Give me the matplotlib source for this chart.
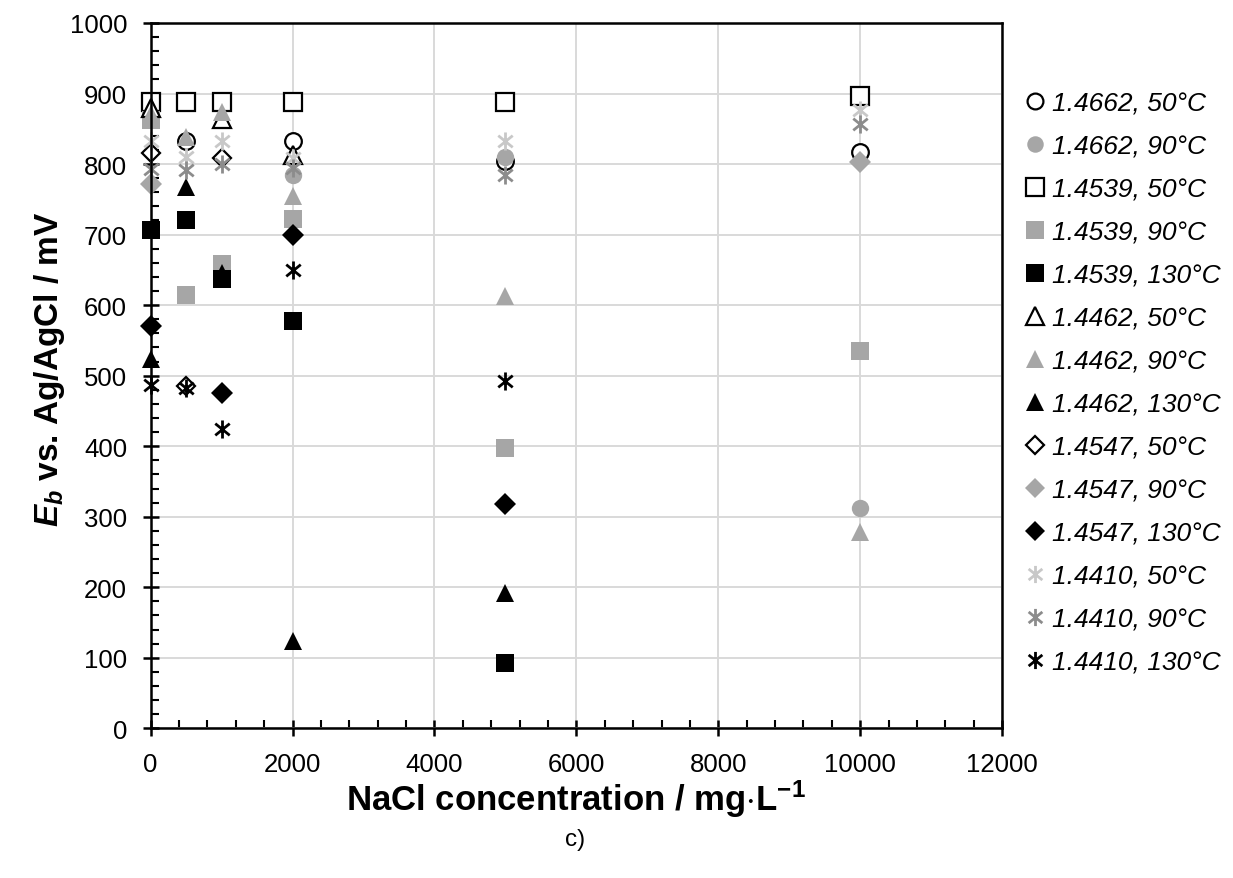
import numpy as np
import matplotlib
matplotlib.use("Agg")
import matplotlib.pyplot as plt
from matplotlib.path import Path
from matplotlib.ticker import MultipleLocator

plt.rcParams["font.family"] = ["Liberation Sans", "DejaVu Sans"]
plt.rcParams["mathtext.fontset"] = "custom"
plt.rcParams["mathtext.bf"] = "Liberation Sans:bold"
plt.rcParams["mathtext.it"] = "Liberation Sans:italic:bold"  # only used for E_b
plt.rcParams["mathtext.rm"] = "Liberation Sans"

nan = np.nan

# ── data (NaCl mg/L → Eb mV) ─────────────────────────────────────────────
conc = [0, 500, 1000, 2000, 5000, 10000]

eb_4662_50 = [nan, 833, nan, 833, 805, 817]
eb_4662_90 = [nan, nan, nan, 784, 810, 313]
eb_4539_50 = [888, 888, 888, 888, 888, 897]
eb_4539_90 = [863, 615, 659, 722, 398, 535]
eb_4539_130 = [707, 720, 637, 578, 92, nan]
eb_4462_50 = [880, nan, 864, 813, nan, nan]
eb_4462_90 = [871, 838, 874, 755, 613, 278]
eb_4462_130 = [523, 767, 645, 124, 192, nan]
eb_4547_50 = [815, 486, 808, nan, nan, nan]
eb_4547_90 = [772, nan, nan, nan, nan, 803]
eb_4547_130 = [570, nan, 476, 699, 318, nan]
eb_4410_50 = [833, 810, 833, 808, 833, 876]
eb_4410_90 = [793, 791, 800, 795, 784, 857]
eb_4410_130 = [487, 482, 424, 650, 492, nan]

labels = ["1.4662, 50°C", "1.4662, 90°C",
          "1.4539, 50°C", "1.4539, 90°C", "1.4539, 130°C",
          "1.4462, 50°C", "1.4462, 90°C", "1.4462, 130°C",
          "1.4547, 50°C", "1.4547, 90°C", "1.4547, 130°C",
          "1.4410, 50°C", "1.4410, 90°C", "1.4410, 130°C"]

# asterisk: vertical bar + X
star = Path([(0, -1), (0, 1), (-0.8, -0.65), (0.8, 0.65), (-0.8, 0.65), (0.8, -0.65)],
            [Path.MOVETO, Path.LINETO, Path.MOVETO, Path.LINETO, Path.MOVETO, Path.LINETO])

GRAY = "#a6a6a6"
open_ = dict(mfc="white", mec="black", mew=1.6)
gray = dict(mfc=GRAY, mec=GRAY, mew=0)
black = dict(mfc="black", mec="black", mew=0)

styles = [
    ("o", 12, open_), ("o", 12.5, gray),
    ("s", 13, open_), ("s", 13.5, gray), ("s", 13.5, black),
    ("^", 13, open_), ("^", 13.5, gray), ("^", 13.5, black),
    ("D", 9.5, open_), ("D", 11, gray), ("D", 11, black),
    (star, 13, dict(mec="#c8c8c8", mew=2)),
    (star, 13, dict(mec="#8c8c8c", mew=2)),
    (star, 13, dict(mec="black", mew=2)),
]
series = [eb_4662_50, eb_4662_90, eb_4539_50, eb_4539_90, eb_4539_130,
          eb_4462_50, eb_4462_90, eb_4462_130, eb_4547_50, eb_4547_90,
          eb_4547_130, eb_4410_50, eb_4410_90, eb_4410_130]

fig = plt.figure(figsize=(12.33, 8.79), dpi=100)
ax = fig.add_axes([0.1222, 0.1703, 0.6905, 0.8024])

for vals, lab, (mk, ms, kw) in zip(series, labels, styles):
    ax.plot(conc, vals, linestyle="none", marker=mk, ms=ms, label=lab, clip_on=False, **kw)

ax.set_xlim(0, 12000)
ax.set_ylim(0, 1000)
ax.xaxis.set_major_locator(MultipleLocator(2000))
ax.xaxis.set_minor_locator(MultipleLocator(400))
ax.yaxis.set_major_locator(MultipleLocator(100))
ax.yaxis.set_minor_locator(MultipleLocator(20))
ax.tick_params(which="major", direction="inout", length=12, width=1.8, labelsize=18.5, pad=11)
ax.tick_params(which="minor", direction="in", length=6, width=1.5)
ax.grid(True, which="major", color="#d9d9d9", lw=1.4)
ax.set_axisbelow(True)
for sp in ax.spines.values():
    sp.set_linewidth(1.8)

ax.set_xlabel(r"NaCl concentration / mg$\cdot$L$^{\mathbf{-1}}$", fontsize=25,
              fontweight="bold", labelpad=1)
ax.set_ylabel(r"$\mathit{E}_{\mathit{b}}$ vs. Ag/AgCl / mV", fontsize=24, fontweight="bold")
ax.yaxis.set_label_coords(-0.098, 0.51)
fig.text(0.466, 0.044, "c)", fontsize=17.5, ha="center", va="center")

ax.legend(loc="upper left", bbox_to_anchor=(1.012, 0.918), frameon=False,
          prop=dict(size=19, style="italic"), markerscale=0.95,
          handlelength=0.9, handletextpad=0.2, labelspacing=0.72, borderaxespad=0)

fig.savefig("out.png", dpi=100)
